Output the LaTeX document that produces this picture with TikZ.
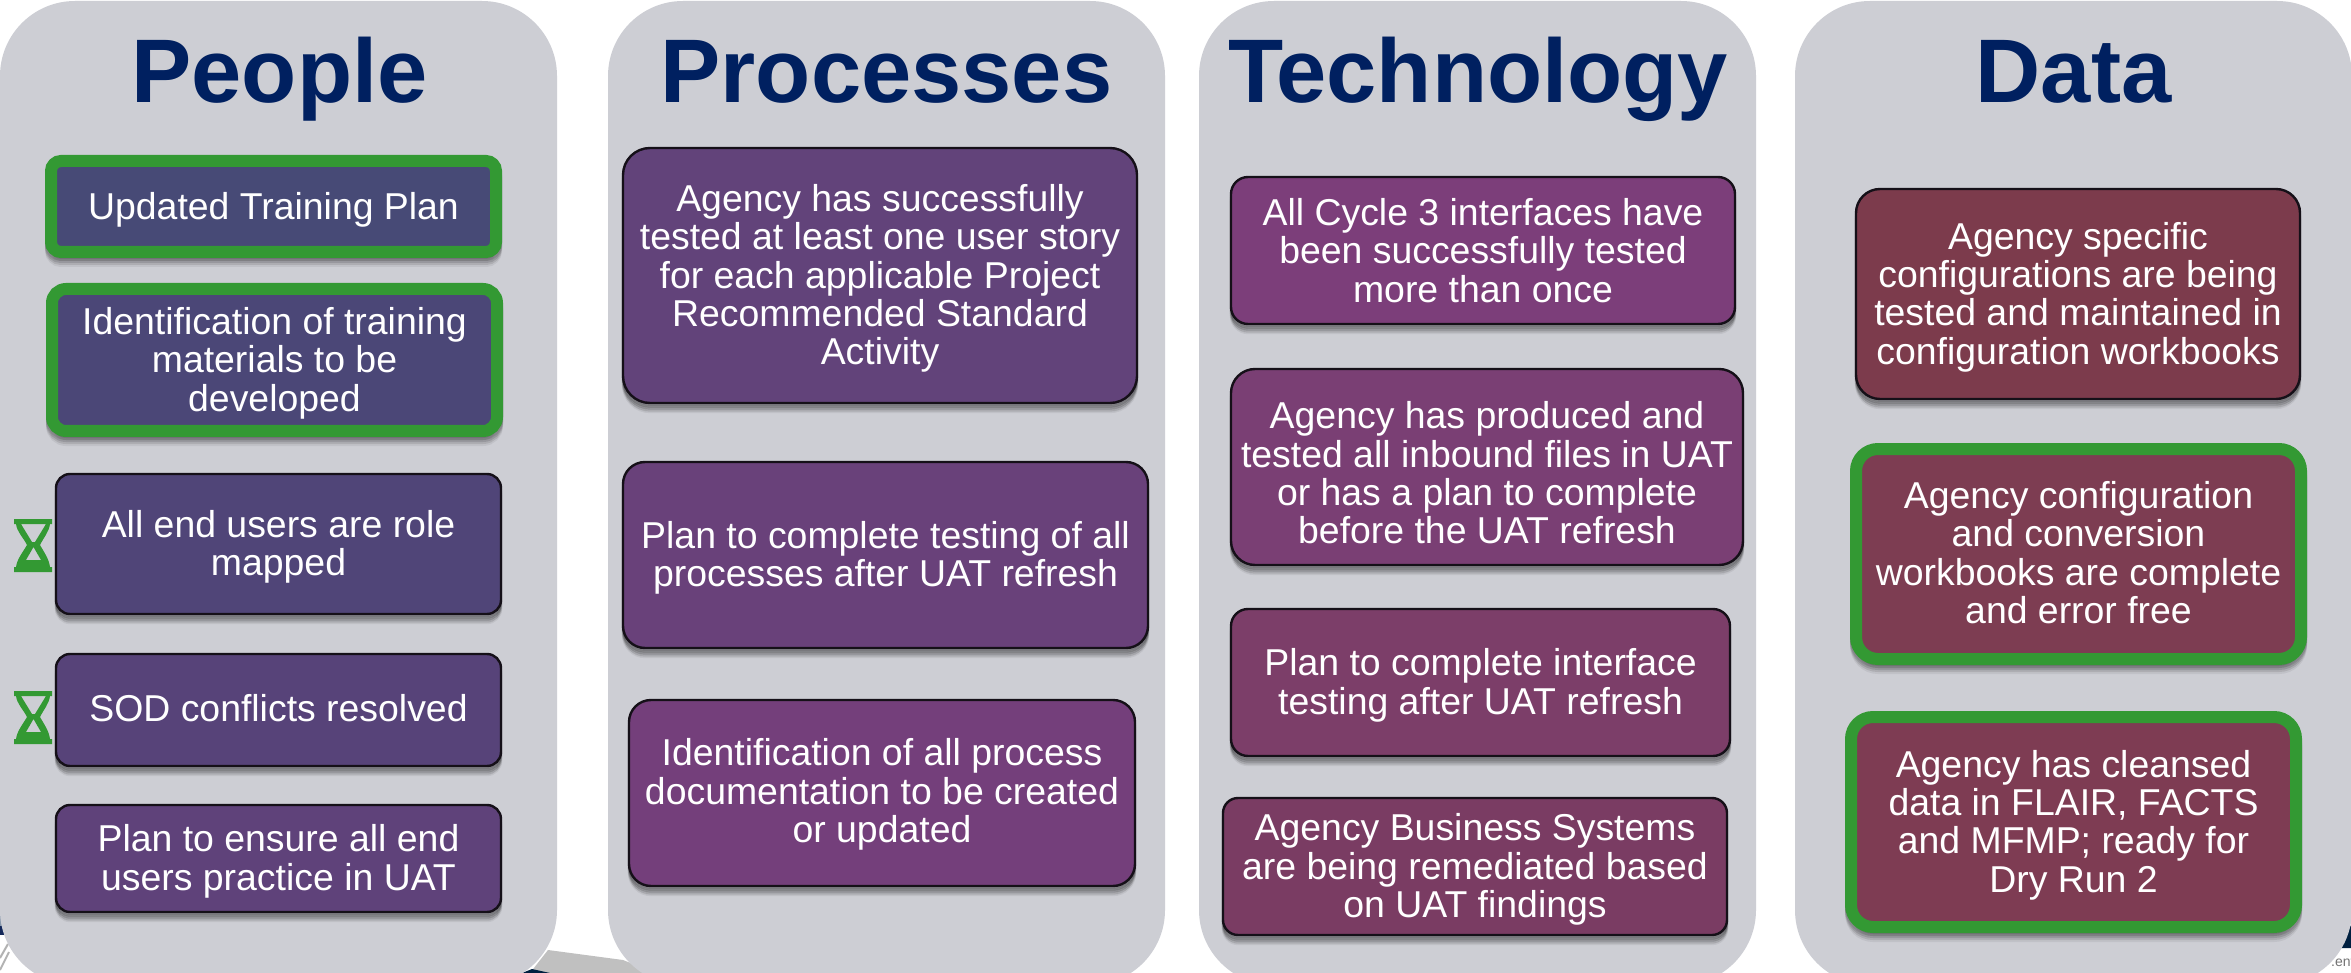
\documentclass[tikz,border=0pt]{standalone}
\usepackage{fontspec}
\setmainfont{Liberation Sans}
\definecolor{panelgray}{HTML}{CDCED4}
\definecolor{titleblue}{HTML}{002060}
\definecolor{okgreen}{HTML}{339933}
\definecolor{edgedark}{HTML}{151018}
\definecolor{stripblue}{HTML}{8898AC}
\definecolor{spotblue}{HTML}{14285A}
\definecolor{wedgegray}{HTML}{C0C0C0}
\definecolor{wedgenavy}{HTML}{002040}
\tikzset{
  x=1pt,y=-1pt,
  panel/.style={fill=panelgray,rounded corners=75pt},
  paneltitle/.style={text=titleblue,anchor=base,font=\fontsize{90.3}{100}\selectfont\bfseries,inner sep=0pt},
  softshadow/.style={
    preaction={fill=black,draw=black,opacity=.10,transform canvas={yshift=-3pt}},
    preaction={fill=black,draw=black,opacity=.12,transform canvas={yshift=-5pt}},
    preaction={fill=black,draw=black,opacity=.10,transform canvas={yshift=-7pt}},
    preaction={fill=black,draw=black,opacity=.06,transform canvas={yshift=-9pt}}},
  card/.style={rectangle,softshadow,inner sep=0pt,outer sep=0pt},
  blackcard/.style={card,draw=edgedark,line width=2.4pt},
  greencard/.style={card,draw=okgreen,line width=12pt},
  cardtext/.style={text=white,align=center,inner sep=0pt,font=\fontsize{37.4}{38.4}\selectfont},
  hourglass/.pic={
    \fill[okgreen,even odd rule]
      (0,0) -- (38,0) -- (38,5) -- (36,5) .. controls (35,13) and (30,18) .. (26,26)
      .. controls (30,33) and (35,40) .. (36,48) -- (38,48) -- (38,53) -- (0,53) -- (0,48) -- (2,48)
      .. controls (3,40) and (9,33) .. (13,26) .. controls (9,18) and (3,13) .. (2,5) -- (0,5) -- cycle
      (7,5) -- (32,5) -- (21,23) -- (18,23) -- cycle
      (19.5,28) -- (27,41) -- (12,41) -- cycle;
  }
}
% name, x0, y0, x1, y1, style, radius, colour, text; \tdy moves the text down
\newcommand{\bbox}[9]{%
  \pgfmathsetmacro{\bw}{#4-#2}\pgfmathsetmacro{\bh}{#5-#3}%
  \node[#6,rounded corners=#7pt,fill=#8,minimum width=\bw pt,minimum height=\bh pt]
    (#1) at ({(#2+#4)/2},{(#3+#5)/2}) {};
  \node[cardtext] (#1t) at ({(#2+#4)/2},{(#3+#5)/2+\tdy}) {#9};}
\begin{document}
\begin{tikzpicture}
\useasboundingbox (0,0) rectangle (2351,973);
\fill[white] (0,0) rectangle (2351,973);
% fragments of the picture behind the panels
\fill[stripblue] (0,867) rectangle (4,928);
\fill[spotblue] (0,926) rectangle (4,935);
\draw[black!30,line width=2pt] (0,958) -- (8,944) (0,970) -- (9,952);
\fill[wedgegray] (548,950) -- (623,960) -- (655,973) -- (530,973) -- cycle;
\fill[wedgenavy] (522,973) -- (532,969) -- (550,973) -- cycle;
\fill[wedgenavy] (2351,925) -- (2351,948) -- (2340,948) -- cycle;
\node[text=black!55,font=\fontsize{14}{14}\selectfont,inner sep=0pt,anchor=base west] (tag) at (2331,966) {.ent};
% panels
\fill[panel] (0,1) rectangle (557,985);
\fill[panel] (608,1) rectangle (1165,985);
\fill[panel] (1199,1) rectangle (1756,985);
\fill[panel] (1795,1) rectangle (2352,985);
% titles
\node[paneltitle] (tpeople) at (279.5,103) {People};
\node[paneltitle] (tprocess) at (886.5,103) {Processes};
\node[paneltitle] (ttech) at (1478,103) {Technology};
\node[paneltitle] (tdata) at (2073.5,103) {Data};
% People
\definecolor{c1}{HTML}{474A76}\definecolor{c2}{HTML}{4B4777}\definecolor{c3}{HTML}{504578}
\definecolor{c4}{HTML}{574379}\definecolor{c5}{HTML}{5F427A}
\def\tdy{3}\bbox{a1}{51}{161}{496}{252}{greencard}{10}{c1}{Updated Training Plan}
\def\tdy{3}\bbox{a2}{52}{289}{497}{431}{greencard}{14}{c2}{Identification of training\\materials to be\\developed}
\def\tdy{3}\bbox{a3}{56}{474}{501}{614}{blackcard}{14}{c3}{All end users are role\\mapped}
\def\tdy{-1.5}\bbox{a4}{56}{654}{501}{766}{blackcard}{14}{c4}{SOD conflicts resolved}
\def\tdy{3}\bbox{a5}{56}{805}{501}{912}{blackcard}{14}{c5}{Plan to ensure all end\\users practice in UAT}
\pic at (14,519) {hourglass};
\pic at (14,691) {hourglass};
% Processes
\definecolor{c6}{HTML}{62437A}\definecolor{c7}{HTML}{69417A}\definecolor{c8}{HTML}{743F7B}
\def\tdy{3}\bbox{b1}{623}{148}{1137}{403}{blackcard}{27}{c6}{Agency has successfully\\tested at least one user story\\for each applicable Project\\Recommended Standard\\Activity}
\def\tdy{3}\bbox{b2}{623}{462}{1148}{648}{blackcard}{22}{c7}{Plan to complete testing of all\\processes after UAT refresh}
\def\tdy{1.5}\bbox{b3}{629}{700}{1135}{886}{blackcard}{22}{c8}{Identification of all process\\documentation to be created\\or updated}
% Technology
\definecolor{c9}{HTML}{7C3E7A}\definecolor{c10}{HTML}{7A3F74}\definecolor{c11}{HTML}{7C3E69}\definecolor{c12}{HTML}{7A3C63}
\def\tdy{0}\bbox{c1box}{1231}{177}{1735}{324}{blackcard}{17}{c9}{All Cycle 3 interfaces have\\been successfully tested\\more than once}
\def\tdy{6}\bbox{c2box}{1231}{369}{1743}{565}{blackcard}{24}{c10}{Agency has produced and\\tested all inbound files in UAT\\or has a plan to complete\\before the UAT refresh}
\def\tdy{3}\bbox{c3box}{1231}{609}{1730}{756}{blackcard}{17}{c11}{Plan to complete interface\\testing after UAT refresh}
\def\tdy{3}\bbox{c4box}{1223}{798}{1727}{935}{blackcard}{15}{c12}{Agency Business Systems\\are being remediated based\\on UAT findings}
% Data
\definecolor{c13}{HTML}{7C3B4C}\definecolor{c14}{HTML}{7D3D52}\definecolor{c15}{HTML}{7E3C53}
\def\tdy{3}\bbox{d1}{1856}{189}{2300}{399}{blackcard}{24}{c13}{Agency specific\\configurations are being\\tested and maintained in\\configuration workbooks}
\def\tdy{-1.5}\bbox{d2}{1856}{449}{2301}{659}{greencard}{22}{c14}{Agency configuration\\and conversion\\workbooks are complete\\and error free}
\def\tdy{3}\bbox{d3}{1851}{717}{2296}{927}{greencard}{22}{c15}{Agency has cleansed\\data in FLAIR, FACTS\\and MFMP; ready for\\Dry Run 2}
\end{tikzpicture}
\end{document}
